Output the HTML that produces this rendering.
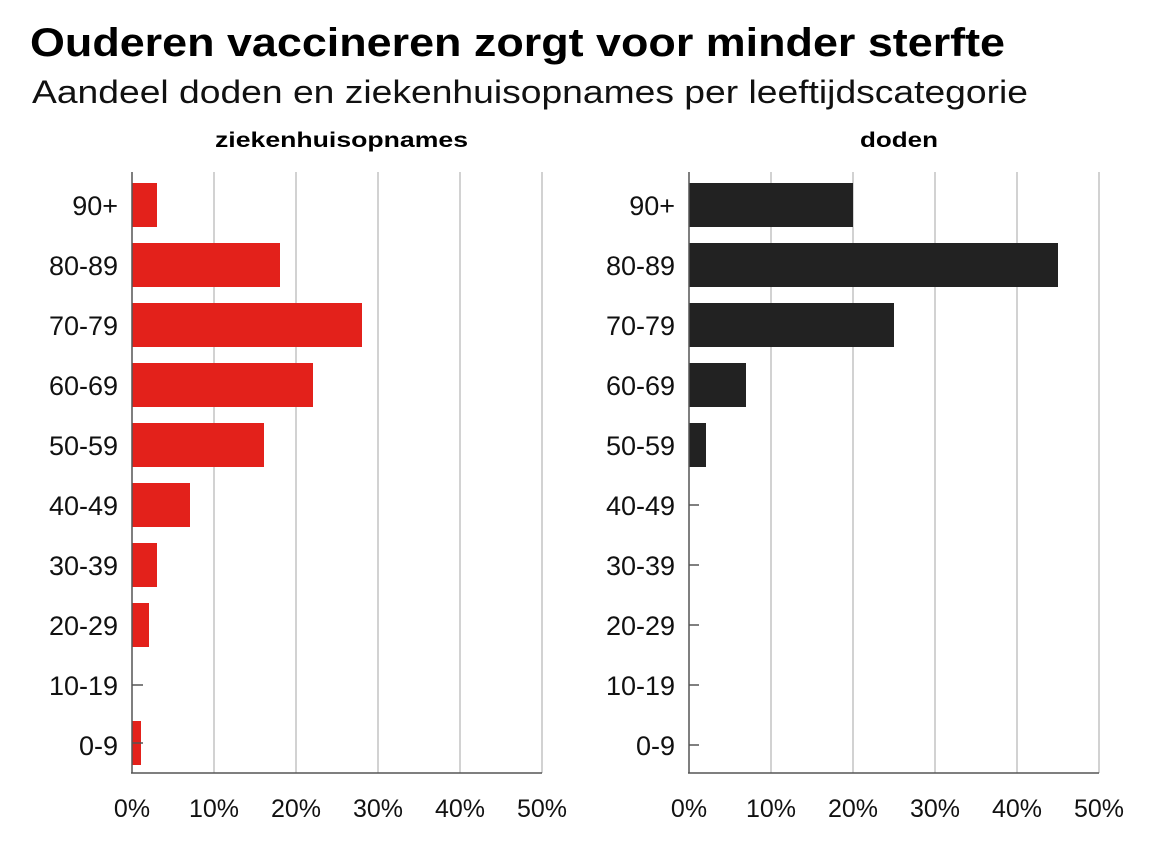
<!DOCTYPE html>
<html><head><meta charset="utf-8"><style>
html,body{margin:0;padding:0;background:#fff;}
svg{display:block;font-family:"Liberation Sans","DejaVu Sans",sans-serif;}
</style></head><body>
<svg width="1152" height="864" viewBox="0 0 1152 864" xmlns="http://www.w3.org/2000/svg">
<text x="30" y="56" font-size="40" font-weight="bold" fill="#000" textLength="975" lengthAdjust="spacingAndGlyphs">Ouderen vaccineren zorgt voor minder sterfte</text>
<text x="32" y="103" font-size="32" fill="#111" textLength="996" lengthAdjust="spacingAndGlyphs">Aandeel doden en ziekenhuisopnames per leeftijdscategorie</text>
<text x="215" y="147" font-size="21" font-weight="bold" textLength="253" lengthAdjust="spacingAndGlyphs">ziekenhuisopnames</text>
<text x="860" y="147" font-size="21" font-weight="bold" textLength="78" lengthAdjust="spacingAndGlyphs">doden</text>
<g stroke="#b5b5b5" stroke-width="1.2">
<line x1="214" y1="172" x2="214" y2="773"/><line x1="296" y1="172" x2="296" y2="773"/><line x1="378" y1="172" x2="378" y2="773"/><line x1="460" y1="172" x2="460" y2="773"/><line x1="542" y1="172" x2="542" y2="773"/>
<line x1="771" y1="172" x2="771" y2="773"/><line x1="853" y1="172" x2="853" y2="773"/><line x1="935" y1="172" x2="935" y2="773"/><line x1="1017" y1="172" x2="1017" y2="773"/><line x1="1099" y1="172" x2="1099" y2="773"/>
</g>
<g fill="#e3211b">
<rect x="132" y="183" width="25" height="44"/>
<rect x="132" y="243" width="148" height="44"/>
<rect x="132" y="303" width="230" height="44"/>
<rect x="132" y="363" width="181" height="44"/>
<rect x="132" y="423" width="132" height="44"/>
<rect x="132" y="483" width="58" height="44"/>
<rect x="132" y="543" width="25" height="44"/>
<rect x="132" y="603" width="17" height="44"/>
<rect x="132" y="721" width="9" height="44"/>
</g>
<g fill="#222">
<rect x="689" y="183" width="164" height="44"/>
<rect x="689" y="243" width="369" height="44"/>
<rect x="689" y="303" width="205" height="44"/>
<rect x="689" y="363" width="57" height="44"/>
<rect x="689" y="423" width="17" height="44"/>
</g>
<g stroke="#555" stroke-width="1.5">
<line x1="132" y1="172" x2="132" y2="773"/><line x1="131" y1="773" x2="542" y2="773"/>
<line x1="689" y1="172" x2="689" y2="773"/><line x1="688" y1="773" x2="1099" y2="773"/>
<line x1="132" y1="685" x2="143" y2="685"/><line x1="132" y1="743" x2="143" y2="743"/>
<line x1="689" y1="505" x2="699" y2="505"/><line x1="689" y1="565" x2="699" y2="565"/><line x1="689" y1="625" x2="699" y2="625"/><line x1="689" y1="685" x2="699" y2="685"/><line x1="689" y1="745" x2="699" y2="745"/>
</g>
<g font-size="27" fill="#111" text-anchor="end">
<text x="118" y="215">90+</text><text x="118" y="275">80-89</text><text x="118" y="335">70-79</text><text x="118" y="395">60-69</text><text x="118" y="455">50-59</text><text x="118" y="515">40-49</text><text x="118" y="575">30-39</text><text x="118" y="635">20-29</text><text x="118" y="695">10-19</text><text x="118" y="755">0-9</text>
<text x="675" y="215">90+</text><text x="675" y="275">80-89</text><text x="675" y="335">70-79</text><text x="675" y="395">60-69</text><text x="675" y="455">50-59</text><text x="675" y="515">40-49</text><text x="675" y="575">30-39</text><text x="675" y="635">20-29</text><text x="675" y="695">10-19</text><text x="675" y="755">0-9</text>
</g>
<g font-size="25" fill="#111" text-anchor="middle">
<text x="132" y="817">0%</text><text x="214" y="817">10%</text><text x="296" y="817">20%</text><text x="378" y="817">30%</text><text x="460" y="817">40%</text><text x="542" y="817">50%</text>
<text x="689" y="817">0%</text><text x="771" y="817">10%</text><text x="853" y="817">20%</text><text x="935" y="817">30%</text><text x="1017" y="817">40%</text><text x="1099" y="817">50%</text>
</g>
</svg>
</body></html>
